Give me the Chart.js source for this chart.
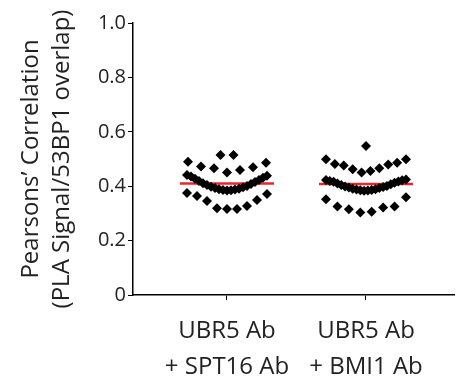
<!DOCTYPE html>
<html><head><meta charset="utf-8">
<script src="https://cdn.jsdelivr.net/npm/chart.js@4"></script>
<style>html,body{margin:0;padding:0;background:#fff}</style>
</head><body>
<canvas id="c" width="459" height="383"></canvas>
<script>
// ---- data ----
const categories = [['UBR5 Ab', '+ SPT16 Ab'], ['UBR5 Ab', '+ BMI1 Ab']];
const spt16Values = [
  0.515, 0.515,
  0.450, 0.460, 0.466, 0.470, 0.472, 0.486, 0.490,
  0.384, 0.385, 0.386, 0.388, 0.389, 0.391, 0.393, 0.396, 0.398, 0.401, 0.404,
  0.408, 0.411, 0.415, 0.419, 0.423, 0.427, 0.431, 0.436, 0.438, 0.441,
  0.316, 0.316, 0.319, 0.327, 0.346, 0.349, 0.364, 0.371, 0.375
];
const bmi1Values = [
  0.548,
  0.450, 0.456, 0.462, 0.466, 0.476, 0.480, 0.482, 0.486, 0.499, 0.499,
  0.383, 0.384, 0.385, 0.386, 0.388, 0.389, 0.391, 0.393, 0.395, 0.397, 0.399,
  0.401, 0.404, 0.407, 0.410, 0.413, 0.416, 0.417, 0.419, 0.422, 0.423, 0.425,
  0.303, 0.306, 0.315, 0.322, 0.325, 0.325, 0.352, 0.359
];
const medians = [0.41, 0.408];
const yTicks = [0, 0.2, 0.4, 0.6, 0.8, 1.0];
const yTitle = ['Pearsons\u2019 Correlation', '(PLA Signal/53BP1 overlap)'];

// ---- layout / style constants ----
const FONT = "'Open Sans', sans-serif";
const X_MIN = 0.324, X_MAX = 2.633;
const ROW_SPAN = 0.062;      // value span grouped into one swarm row
const MAX_STEP_PX = 13;      // spacing between neighbours in a row
const MAX_WIDTH_PX = 80;     // widest a row may spread
const MEDIAN_HALF_PX = 47;

function swarm(values, center, pxPerUnit) {
  const sorted = values.slice().sort((a, b) => a - b);
  const rows = []; let cur = null;
  for (const v of sorted) {
    if (!cur || v > cur.start + ROW_SPAN) { cur = { start: v, vals: [] }; rows.push(cur); }
    cur.vals.push(v);
  }
  const pts = [];
  for (const r of rows) {
    const n = r.vals.length;
    const step = n > 1 ? Math.min(MAX_STEP_PX, MAX_WIDTH_PX / (n - 1)) : 0;
    const slots = [];
    if (n % 2) {
      slots.push(0);
      for (let k = 1; slots.length < n; k++) { slots.push(k); if (slots.length < n) slots.push(-k); }
    } else {
      for (let k = 0; slots.length < n; k++) { slots.push(-(k + 0.5)); slots.push(k + 0.5); }
    }
    r.vals.forEach((v, i) => pts.push({ x: center + slots[i] * step / pxPerUnit, y: v }));
  }
  return pts;
}

const groups = [spt16Values, bmi1Values];
const pointStyle = {
  type: 'scatter', pointStyle: 'rectRot', pointRadius: 5, pointHoverRadius: 5,
  backgroundColor: '#000', borderColor: '#000', borderWidth: 0, order: 1
};
const datasets = [];
groups.forEach(() => datasets.push(Object.assign({ data: [] }, pointStyle)));
medians.forEach(() => datasets.push({
  type: 'line', data: [], borderColor: '#e8262c', borderWidth: 2.5,
  pointRadius: 0, fill: false, order: 2
}));

const chart = new Chart(document.getElementById('c'), {
  type: 'scatter',
  data: { datasets },
  options: {
    responsive: false, animation: false, devicePixelRatio: 1,
    layout: { padding: { left: 0, right: 5, top: 23, bottom: 0 } },
    plugins: { legend: { display: false }, tooltip: { enabled: false } },
    scales: {
      x: {
        type: 'linear', min: X_MIN, max: X_MAX,
        afterBuildTicks: s => { s.ticks = categories.map((c, i) => ({ value: i + 1 })); },
        afterFit: s => { s.height = 383 - 295; },
        grid: { drawOnChartArea: false, color: '#000', tickLength: 5, lineWidth: 1 },
        border: { color: '#000', width: 1.5 },
        ticks: {
          color: '#222', padding: 13, maxRotation: 0, autoSkip: false,
          font: { family: FONT, size: 24, lineHeight: 1.5 },
          callback: v => categories[Math.round(v) - 1]
        }
      },
      y: {
        min: 0, max: 1,
        afterBuildTicks: s => { s.ticks = yTicks.map(v => ({ value: v })); },
        afterFit: s => { s.width = 133; },
        grid: { drawOnChartArea: false, color: '#000', tickLength: 5, lineWidth: 1 },
        border: { color: '#000', width: 1.5 },
        ticks: {
          color: '#222', padding: 2,
          font: { family: FONT, size: 20 },
          callback: v => v === 0 ? '0' : v.toFixed(1)
        },
        title: {
          display: true, text: yTitle, color: '#222',
          font: { family: FONT, size: 24, lineHeight: 1.28 },
          padding: { top: 16, bottom: 0 }
        }
      }
    }
  }
});

const xs = chart.scales.x;
const pxPerUnit = xs.getPixelForValue(1) - xs.getPixelForValue(0);
groups.forEach((g, i) => { chart.data.datasets[i].data = swarm(g, i + 1, pxPerUnit); });
medians.forEach((m, i) => {
  const hw = MEDIAN_HALF_PX / pxPerUnit;
  chart.data.datasets[groups.length + i].data = [{ x: i + 1 - hw, y: m }, { x: i + 1 + hw, y: m }];
});
chart.update('none');
</script>
</body></html>
